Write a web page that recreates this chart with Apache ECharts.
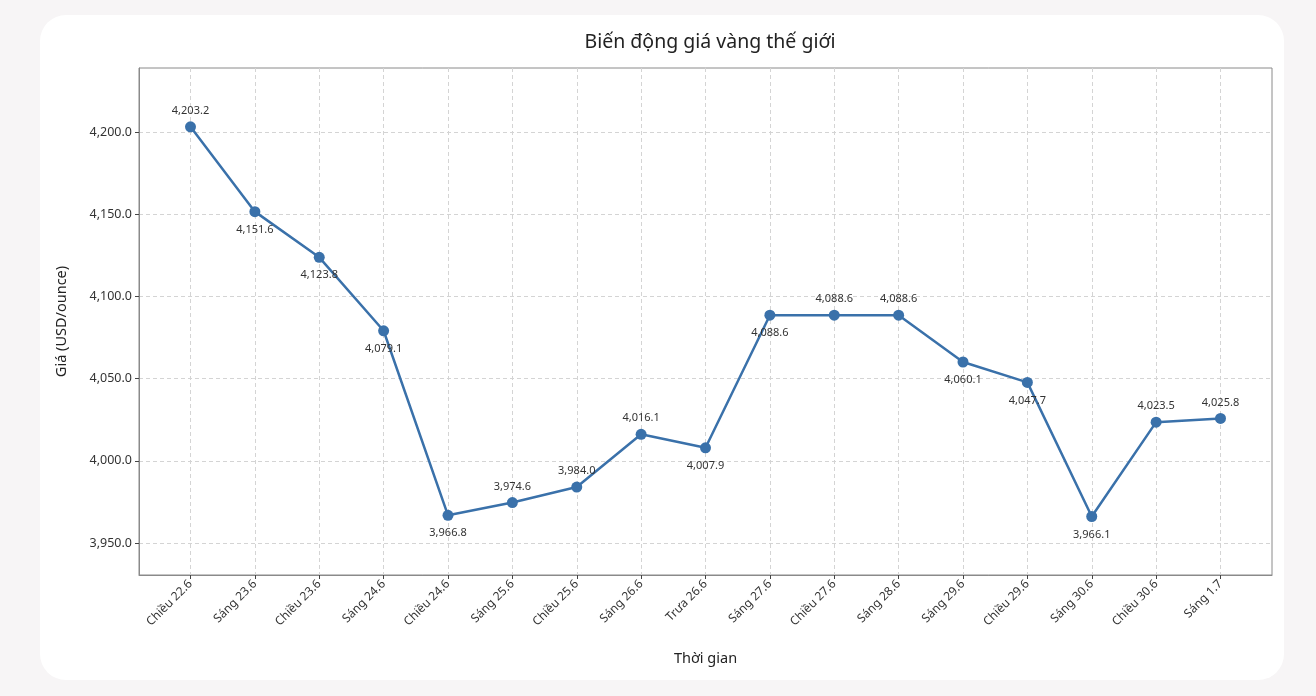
<!DOCTYPE html>
<html>
<head>
<meta charset="utf-8">
<script src="https://cdn.jsdelivr.net/npm/echarts@6/dist/echarts.min.js"></script>
<style>
  html, body { margin: 0; padding: 0; background: #f7f5f6; }
  #card {
    position: absolute; left: 40px; top: 15px; width: 1244px; height: 665px;
    background: #fff; border-radius: 26px;
  }
  #chart { position: absolute; left: 0; top: 0; width: 1316px; height: 696px; }
</style>
</head>
<body>
<div id="card"></div>
<div id="chart"></div>
<script>
// data
const categories = ['Chiều 22.6', 'Sáng 23.6', 'Chiều 23.6', 'Sáng 24.6', 'Chiều 24.6', 'Sáng 25.6',
  'Chiều 25.6', 'Sáng 26.6', 'Trưa 26.6', 'Sáng 27.6', 'Chiều 27.6', 'Sáng 28.6', 'Sáng 29.6',
  'Chiều 29.6', 'Sáng 30.6', 'Chiều 30.6', 'Sáng 1.7']
const prices = [4203.2, 4151.6, 4123.8, 4079.1, 3966.8, 3974.6, 3984.0, 4016.1, 4007.9,
  4088.6, 4088.6, 4088.6, 4060.1, 4047.7, 3966.1, 4023.5, 4025.8]
const yTicks = [3950, 4000, 4050, 4100, 4150, 4200]
// points whose value label sits under the marker
const labelBelow = [1, 2, 3, 4, 8, 9, 12, 13, 14]

const fmt = v => v.toLocaleString('en-US', { minimumFractionDigits: 1, maximumFractionDigits: 1 })
const font = '"Noto Sans", sans-serif'

const chart = echarts.init(document.getElementById('chart'))
chart.setOption({
  backgroundColor: 'transparent',
  textStyle: { fontFamily: font },
  title: {
    text: 'Biến động giá vàng thế giới',
    left: 705, top: 27, textAlign: 'center',
    textStyle: { fontSize: 19.5, fontWeight: 'normal', color: '#222', fontFamily: font }
  },
  grid: {
    left: 139, right: 44, top: 68, bottom: 121,
    show: true, borderColor: '#8a8a8a', borderWidth: 1
  },
  xAxis: {
    type: 'value',
    min: -0.8,
    max: 16.8,
    name: 'Thời gian',
    nameLocation: 'middle',
    nameGap: 76,
    nameTextStyle: { fontSize: 14.5, color: '#222' },
    axisLine: { show: true, onZero: false, lineStyle: { color: '#8a8a8a' } },
    axisTick: { show: true, length: 4, lineStyle: { color: '#444' }, customValues: categories.map((c, i) => i) },
    axisLabel: {
      rotate: 45, fontSize: 12, color: '#333', margin: 7,
      customValues: categories.map((c, i) => i),
      formatter: v => categories[Math.round(v)] || ''
    },
    splitLine: { show: true, lineStyle: { color: '#d4d4d4', type: [4, 3] } }
  },
  yAxis: {
    type: 'value',
    min: 3930.5,
    max: 4239,
    name: 'Giá (USD/ounce)',
    nameLocation: 'middle',
    nameGap: 70,
    nameTextStyle: { fontSize: 14.5, color: '#222' },
    axisLine: { show: true, onZero: false, lineStyle: { color: '#8a8a8a' } },
    axisTick: { show: true, length: 4, lineStyle: { color: '#444' }, customValues: yTicks },
    axisLabel: { fontSize: 12.5, color: '#333', margin: 7, customValues: yTicks, formatter: v => fmt(v) },
    splitLine: { show: true, lineStyle: { color: '#d4d4d4', type: [4, 3] } }
  },
  series: [{
    type: 'line',
    data: prices.map((p, i) => ({
      value: [i, p],
      label: { position: labelBelow.includes(i) ? 'bottom' : 'top', distance: labelBelow.includes(i) ? 7 : 5 }
    })),
    symbol: 'circle',
    symbolSize: 11,
    itemStyle: { color: '#3a71aa' },
    lineStyle: { color: '#3a71aa', width: 2.5 },
    label: {
      show: true, fontSize: 11, color: '#333',
      formatter: p => fmt(p.value[1])
    },
    animation: false
  }]
})
</script>
</body>
</html>
